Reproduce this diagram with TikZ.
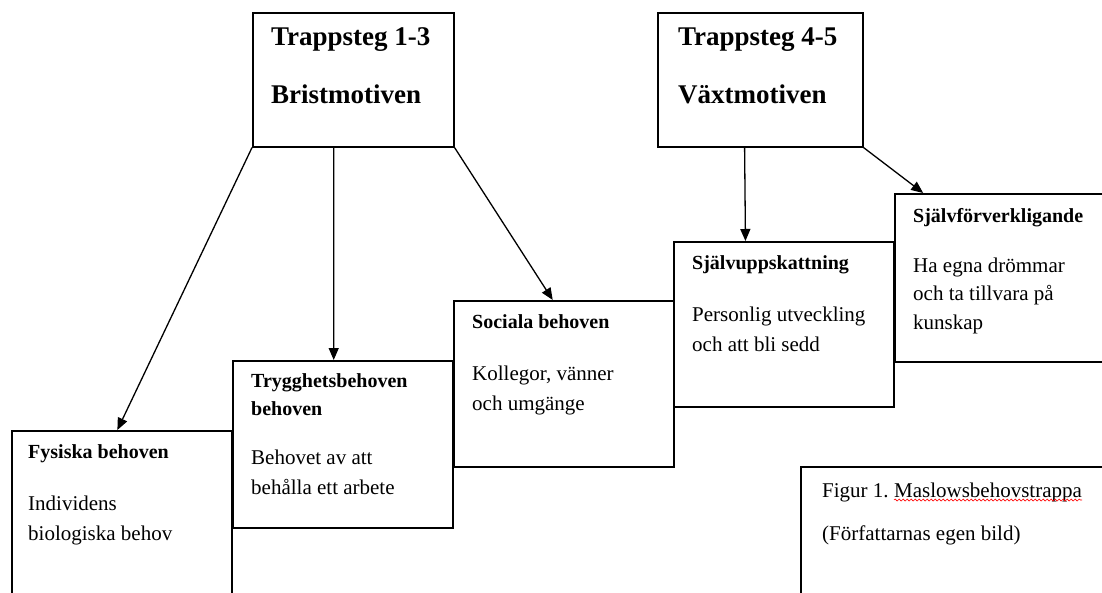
\documentclass[tikz,border=0pt]{standalone}
\usepackage{fontspec}
\setmainfont{Liberation Serif}
\usetikzlibrary{arrows.meta,calc,decorations.pathmorphing}
\begin{document}
\begin{tikzpicture}[x=1pt,y=-1pt,
  box/.style={draw,line width=1.6pt,rectangle,inner sep=0pt,anchor=north west},
  head/.style={font=\fontsize{20}{28}\selectfont\bfseries,anchor=base west,inner sep=0pt,align=left},
  body/.style={font=\fontsize{21}{29.5}\selectfont,anchor=base west,inner sep=0pt,align=left},
  tophead/.style={font=\fontsize{27}{58}\selectfont\bfseries,anchor=base west,inner sep=0pt,align=left},
  arr/.style={line width=1.3pt,-{Triangle[length=12pt,width=10pt]}}]
\clip (0,0) rectangle (1102,592);
\fill[white] (0,0) rectangle (1102,592);
% boxes
\node[box,minimum width=201pt,minimum height=134pt] (b1) at (252,12) {};
\node[box,minimum width=205pt,minimum height=134pt] (b2) at (657,12) {};
\node[box,minimum width=220pt,minimum height=200pt] (fys) at (11,430) {};
\node[box,minimum width=220pt,minimum height=167pt] (try) at (232,360) {};
\node[box,minimum width=220pt,minimum height=166pt] (soc) at (453,300) {};
\node[box,minimum width=220pt,minimum height=165pt] (sju) at (673,241) {};
\node[box,minimum width=230pt,minimum height=168pt] (sjf) at (894,193) {};
\node[box,minimum width=320pt,minimum height=200pt] (cap) at (800,466) {};
% texts (anchor = baseline of the last line)
\node[tophead] (t1) at (271,103) {Trappsteg 1-3\\Bristmotiven};
\node[tophead] (t2) at (678,103) {Trappsteg 4-5\\Växtmotiven};
\node[head] (fysh) at (28,458) {Fysiska behoven};
\node[body] (fysb) at (28,540) {Individens\\biologiska behov};
\node[head] (tryh) at (251,415) {Trygghetsbehoven\\behoven};
\node[body] (tryb) at (251,494) {Behovet av att\\behålla ett arbete};
\node[head] (soch) at (472,328) {Sociala behoven};
\node[body] (socb) at (472,410) {Kollegor, vänner\\och umgänge};
\node[head] (sjuh) at (692,269) {Självuppskattning};
\node[body] (sjub) at (692,351) {Personlig utveckling\\och att bli sedd};
\node[head] (sjfh) at (913,222) {Självförverkligande};
\node[body,font=\fontsize{21}{28.5}\selectfont] (sjfb) at (913,329) {Ha egna drömmar\\och ta tillvara på\\kunskap};
\node[body] (fig) at (822,497) {Figur 1.};
\node[body] (mas) at ($(fig.base east)+(5,0)$) {Maslowsbehovstrappa};
\node[body] (egen) at (822,540) {(Författarnas egen bild)};
\draw[red,line width=0.6pt,decorate,decoration={snake,amplitude=1pt,segment length=4pt}]
  ($(mas.base west)+(0,3)$) -- ($(mas.base east)+(0,3)$);
% arrows
\draw[arr] (b1.south west) -- ($(fys.north west)!0.48!(fys.north east)$);
\draw[arr] ($(b1.south west)!0.403!(b1.south east)$) -- ($(try.north west)!0.459!(try.north east)$);
\draw[arr] (b1.south east) -- ($(soc.north west)!0.45!(soc.north east)$);
\draw[arr] ($(b2.south west)!0.424!(b2.south east)$) -- ($(sju.north west)!0.327!(sju.north east)$);
\draw[arr] (b2.south east) -- ($(sjf.north west)!0.126!(sjf.north east)$);
\end{tikzpicture}
\end{document}
